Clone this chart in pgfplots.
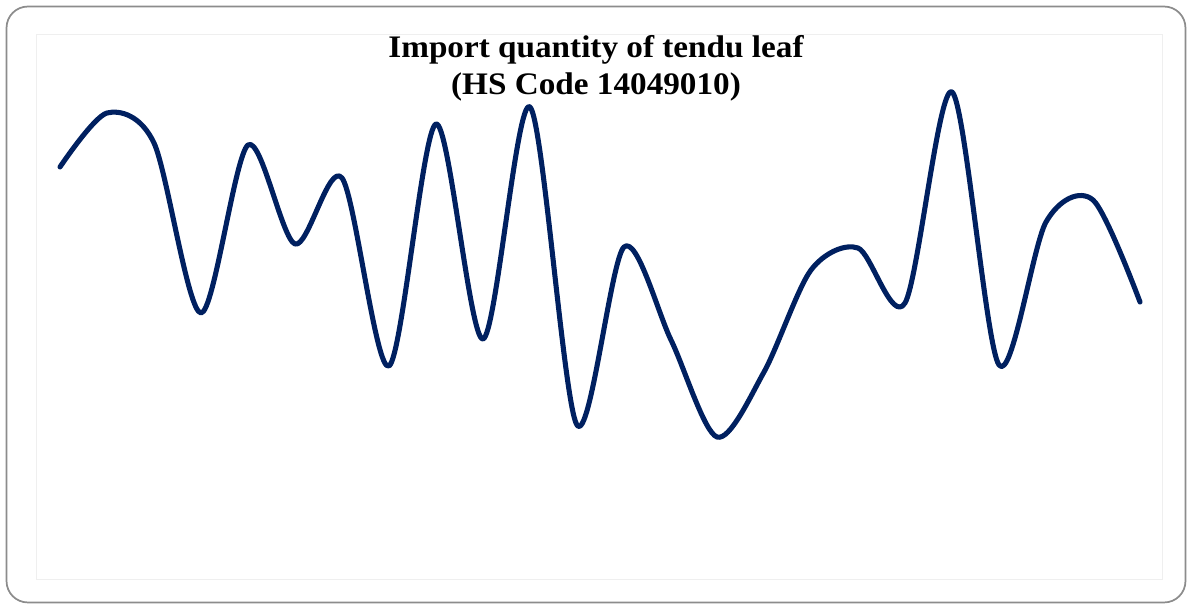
\documentclass[border=0pt]{standalone}
\usepackage{pgfplots}
\pgfplotsset{compat=1.18}
\usepackage{fontspec}
\setmainfont{Liberation Serif}
\definecolor{navy}{HTML}{002060}
\definecolor{inner}{HTML}{EFEFEF}
\definecolor{outer}{HTML}{8C8C8C}
\begin{document}
\begin{tikzpicture}
\path[use as bounding box] (0pt,0pt) rectangle (894pt,456.75pt);
\draw[outer,line width=1.3pt,rounded corners=16pt] (4.9pt,4.9pt) rectangle (889.1pt,451.85pt);
\begin{axis}[
  at={(27pt,21.75pt)}, anchor=south west,
  scale only axis, width=844.5pt, height=408.75pt,
  xmin=36, xmax=1162, ymin=-580, ymax=-35,
  axis line style={inner,line width=0.75pt},
  ticks=none,
  clip=false,
]
\addplot[navy, line width=3.8pt, smooth, tension=0.5, line cap=round, line join=round] coordinates {
(60,-167) (107,-113) (154,-143) (201,-313) (248,-145) (295,-244)
(342,-178) (389,-366) (436,-124) (483,-339) (530,-107) (577,-425)
(624,-247) (671,-340) (717,-437) (764,-372) (811,-270) (858,-248)
(905,-303) (952,-92) (999,-365) (1046,-222) (1093,-200) (1140,-302)
};
\end{axis}
\node[font=\bfseries\fontsize{23.5}{27.75}\selectfont, align=center, anchor=north] at (447pt,433.5pt) {\scalebox{1.06}[1]{Import quantity of tendu leaf}\\\scalebox{1.06}[1]{(HS Code 14049010)}};
\end{tikzpicture}
\end{document}
